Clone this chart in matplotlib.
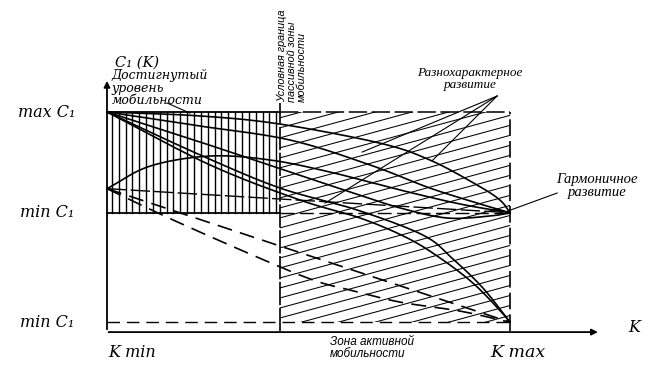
import numpy as np
import matplotlib
matplotlib.use("Agg")
import matplotlib.pyplot as plt
from matplotlib.patches import Rectangle

# ---- data (K: 0 = K min, 100 = K max; C: 0 = axis, 100 = max C1) ----
k_bound = 43          # conditional border of the passive zone
c_max = 100
c_min_hi = 54
c_min_lo = 4
c_start2 = 65

# trajectories starting from max C1
a1_k = [0, 23.1, 42.9, 67.7, 80.1, 91.8, 97.5, 100]
a1_c = [100, 98.2, 94.5, 85.8, 78.1, 66.7, 59.8, 54]
a2_k = [0, 23.1, 45.4, 65.3, 80.1, 92.6, 100]
a2_c = [100, 93.6, 87.2, 75.8, 65.3, 58.0, 54]
a3_k = [0, 23.1, 45.4, 60.3, 72.7, 84.4, 95.0, 100]
a3_c = [100, 86.3, 72.6, 63.5, 56.2, 51.6, 52.5, 54]
c1_k = [0, 25.6, 47.9, 62.8, 74.4, 82.6, 90.8, 97.5, 100]
c1_c = [100, 75.8, 59.8, 51.6, 42.6, 33.4, 21.9, 9.4, 4]
c2_k = [0, 23.1, 42.9, 62.0, 78.4, 85.6, 93.3, 100]
c2_c = [100, 80.4, 65.3, 55.3, 43.8, 33.3, 19.6, 4]
# trajectories starting from the lower start level
b1_k = [0, 10.7, 25.6, 40.4, 55.3, 72.7, 87.6, 100]
b1_c = [65, 75.3, 79.9, 78.1, 72.6, 64.4, 58.0, 54]
b2_k = [0, 100]
b2_c = [65, 54]
d1_k = [0, 100]
d1_c = [65, 4]
d2_k = [0, 16.4, 37.2, 51.1, 60.3, 72.7, 87.6, 100]
d2_c = [65, 50.7, 33.8, 23.3, 18.7, 13.2, 9.1, 4]


def smooth(xs, ys, n=20):
    """Catmull-Rom rendering through the read points (drawing only)."""
    p = np.column_stack([xs, ys]).astype(float)
    if len(p) < 3:
        return p[:, 0], p[:, 1]
    p = np.vstack([2 * p[0] - p[1], p, 2 * p[-1] - p[-2]])
    out = []
    t = np.linspace(0, 1, n, endpoint=False)[:, None]
    for i in range(1, len(p) - 2):
        p0, p1, p2, p3 = p[i - 1], p[i], p[i + 1], p[i + 2]
        seg = 0.5 * ((2 * p1) + (-p0 + p2) * t + (2 * p0 - 5 * p1 + 4 * p2 - p3) * t ** 2
                     + (-p0 + 3 * p1 - 3 * p2 + p3) * t ** 3)
        out.append(seg)
    out.append(p[-2][None, :])
    out = np.vstack(out)
    return out[:, 0], out[:, 1]


# ---- figure ----
fig = plt.figure(figsize=(6.5, 3.74), dpi=100)
ax = fig.add_axes([0, 0, 1, 1])
ax.set_xlim(-26.55, 134.74)
ax.set_ylim(-19.63, 151.14)
ax.axis("off")

lw = 1.2

# axes with arrows
ax.annotate("", xy=(0, 115.5), xytext=(0, -0.5),
            arrowprops=dict(arrowstyle="-|>", color="black", lw=1.3, mutation_scale=9))
ax.annotate("", xy=(122.5, -0.5), xytext=(-0.3, -0.5),
            arrowprops=dict(arrowstyle="-|>", color="black", lw=1.3, mutation_scale=9))

# passive zone: vertical hatching
for xv in np.arange(1.2, k_bound, 1.7):
    ax.plot([xv, xv], [c_min_hi, c_max], color="black", lw=1.0)
ax.plot([0, k_bound], [c_max, c_max], color="black", lw=1.3)
ax.plot([0, k_bound], [c_min_hi, c_min_hi], color="black", lw=1.3)

# active zone: oblique hatching clipped to the rectangle
clip = Rectangle((k_bound, c_min_lo), 100 - k_bound, c_max - c_min_lo,
                 transform=ax.transData, fill=False, lw=0)
ax.add_patch(clip)
slope = 0.5
for c0 in np.arange(c_min_lo - slope * 60, c_max + 2, 4.57):
    xs = np.array([k_bound, 100])
    ln, = ax.plot(xs, c0 + slope * (xs - k_bound), color="black", lw=0.75)
    ln.set_clip_path(clip)

# borders of zones
ax.plot([k_bound, k_bound], [0, 104], color="black", lw=1.2, dashes=(14, 1.5))
ax.plot([100, 100], [0, c_max], color="black", lw=1.2, dashes=(10, 3))
ax.plot([k_bound, 100], [c_max, c_max], color="black", lw=1.1, dashes=(12, 3))
ax.plot([k_bound, 100], [c_min_hi, c_min_hi], color="black", lw=1.0, dashes=(10, 4))
ax.plot([0, 100], [c_min_lo, c_min_lo], color="black", lw=1.0, dashes=(9, 5))

# trajectories
for xs, ys in [(a1_k, a1_c), (a2_k, a2_c), (a3_k, a3_c), (c1_k, c1_c),
               (c2_k, c2_c), (b1_k, b1_c)]:
    sx, sy = smooth(xs, ys)
    ax.plot(sx, sy, color="black", lw=lw, solid_capstyle="round")
ax.plot(b2_k, b2_c, color="black", lw=1.0, dashes=(14, 3))
ax.plot(d1_k, d1_c, color="black", lw=1.2, dashes=(9, 5))
sx, sy = smooth(d2_k, d2_c)
ax.plot(sx, sy, color="black", lw=1.2, dashes=(9, 5))

# pointer lines
for tk, tc in [(54.1, 58.4), (63.3, 81.7), (80.6, 77.6)]:
    ax.plot([96.8, tk], [107.3, tc], color="black", lw=0.8)
ax.plot([99.5, 111.7], [54.8, 63.0], color="black", lw=0.8)
ax.plot([14.9, 20.6], [104.1, 99.5], color="black", lw=0.8)

# ---- texts ----
serif = ["Liberation Serif", "DejaVu Serif"]
wide = ["DejaVu Serif"]
sans = ["Liberation Sans", "DejaVu Sans"]
ax.text(-22.1, 100, "max C₁", family=wide, style="italic", fontsize=11.5, va="center", ha="left")
ax.text(-21.6, 53.9, "min C₁", family=wide, style="italic", fontsize=11.5, va="center", ha="left")
ax.text(-21.6, 4.1, "min C₁", family=wide, style="italic", fontsize=11.5, va="center", ha="left")
ax.text(0.3, -9.6, "K min", family=wide, style="italic", fontsize=11.5, va="center", ha="left")
ax.text(95, -9.6, "K max", family=wide, style="italic", fontsize=12.5, va="center", ha="left")
ax.text(129.3, 1.8, "K", family=wide, style="italic", fontsize=11.5, va="center", ha="left")
ax.text(2, 122.4, "C₁ (K)", family=wide, style="italic", fontsize=10.5, va="center", ha="left")
ax.text(1.2, 119.5, "Достигнутый\nуровень\nмобильности", family=wide, style="italic",
        fontsize=9, va="top", ha="left", linespacing=0.95)
ax.text(45.9, 104.5, "Условная граница\nпассивной зоны\nмобильности", family=sans,
        style="italic", fontsize=7.8, rotation=90, va="bottom", ha="center",
        multialignment="left", linespacing=0.95)
ax.text(90.1, 120.5, "Разнохарактерное\nразвитие", family=serif, style="italic",
        fontsize=9.5, va="top", ha="center", multialignment="center", linespacing=1.0)
ax.text(121.6, 72, "Гармоничное\nразвитие", family=serif, style="italic",
        fontsize=10.5, va="top", ha="center", multialignment="center", linespacing=1.0)
ax.text(55.3, -2.3, "Зона активной\nмобильности", family=sans, style="italic",
        fontsize=8.5, va="top", ha="left", linespacing=1.0)

fig.savefig("out.png", dpi=100)
